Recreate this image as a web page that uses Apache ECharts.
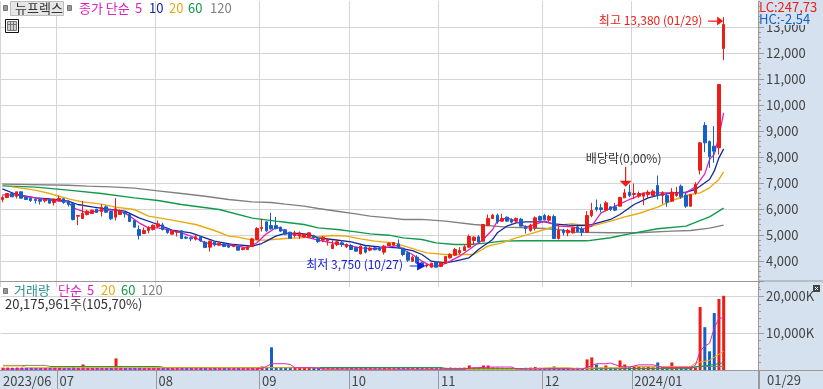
<!DOCTYPE html>
<html><head><meta charset="utf-8">
<style>html,body{margin:0;padding:0;background:#fff}#c{width:823px;height:389px}</style>
<script src="https://cdn.jsdelivr.net/npm/echarts@6/dist/echarts.min.js"></script>
</head><body><div id="c"></div>
<script>
// [open, close, low, high]
const candles = [
[6365,6440,6260,6520],[6440,6596,6416,6620],[6596,6468,6460,6610],[6493,6660,6404,6673],[6660,6416,6410,6670],
[6455,6365,6360,6470],[6404,6327,6275,6410],[6365,6327,6211,6391],[6365,6301,6173,6365],[6314,6365,6250,6416],
[6365,6224,6211,6391],[6250,6378,6134,6404],[6327,6404,6301,6519],[6391,6250,6198,6416],[6301,6173,6096,6327],
[6211,5596,5558,6237],[5724,5750,5378,5750],[5634,5827,5622,6314],[5788,5917,5750,5968],[5827,5955,5814,5968],
[5993,5865,5852,6006],[5904,6058,5711,6186],[6083,5878,5852,6134],[5904,5622,5570,5929],[5686,6006,5558,6416],
[5788,5929,5788,5981],[5878,5814,5673,5904],[5788,5519,5506,5800],[5558,5301,5290,5570],[5211,4981,4827,5365],
[5058,5173,5058,5288],[5173,5288,5058,5340],[5211,5378,5173,5404],[5327,5429,5275,5558],[5391,5211,5173,5468],
[5250,5096,5045,5275],[5032,5147,5020,5160],[5109,5134,4942,5134],[5160,4865,4840,5186],[4917,4878,4840,4955],
[4891,4852,4763,4917],[4840,4930,4788,5019],[4917,4775,4737,4955],[4724,4519,4493,4775],[4532,4763,4365,4788],
[4724,4622,4557,4750],[4609,4686,4600,4700],[4660,4557,4532,4686],[4622,4532,4519,4647],[4557,4596,4532,4622],
[4545,4417,4404,4557],[4442,4493,4404,4519],[4442,4545,4442,4570],[4557,4852,4545,4891],[4827,5250,4801,5301],
[5250,5288,5134,5622],[5506,5160,5122,5519],[5365,5237,5211,5852],[5366,5250,5212,5699],[5302,5148,5130,5320],
[5199,5032,5006,5237],[5109,4878,4870,5120],[4981,5083,4904,5160],[4955,5083,4853,5135],[4930,5020,4904,5045],
[4930,5083,4904,5109],[4981,4904,4853,5006],[4853,4750,4699,4904],[4802,4904,4725,4955],[4776,4827,4596,4878],
[4481,4635,4481,4802],[4635,4737,4571,4840],[4699,4635,4545,4802],[4545,4635,4494,4673],[4596,4443,4417,4648],
[4520,4378,4365,4533],[4276,4571,4250,4596],[4532,4340,4290,4596],[4417,4494,4378,4545],[4506,4430,4415,4530],
[4506,4417,4378,4530],[4340,4571,4250,4622],[4596,4686,4596,4712],[4609,4712,4596,4730],[4660,4506,4490,4827],
[4494,4250,4186,4510],[4314,4032,3968,4378],[3994,4147,3968,4212],[4147,3930,3891,4224],[3930,3800,3780,3960],
[3810,3850,3750,3890],[3763,3917,3750,3940],[3968,3763,3750,3990],[3790,3930,3780,3950],[3904,4173,3890,4185],
[4122,4250,4096,4301],[4224,4442,4186,4506],[4314,4404,4250,4532],[4404,4545,4404,4609],[4532,4942,4506,5019],
[4788,4917,4609,4955],[4930,4724,4686,4994],[4763,5404,4750,5404],[5378,5635,5340,5788],[5635,5763,5635,5814],
[5763,5506,5430,5827],[5532,5635,5506,5814],[5686,5532,5520,5712],[5596,5494,5442,5647],[5558,5635,5442,5673],
[5609,5340,5330,5660],[5340,5250,5058,5360],[5173,5378,5122,5430],[5276,5660,5173,5712],[5711,5570,5560,5750],
[5750,5583,5570,5814],[5570,5711,5506,5775],[5711,4865,4855,5788],[4865,5173,4827,5404],[5186,5083,4980,5237],
[5083,5173,4955,5237],[5083,5275,5058,5290],[5314,5122,5110,5340],[5237,5109,4955,5314],[5109,5750,5083,5916],
[5750,5942,5686,6237],[6058,5981,5904,6365],[6045,5981,5878,6198],[5955,6237,5929,6301],[6083,5981,5929,6100],
[6083,5955,5916,6237],[6109,6442,6096,6468],[6429,6622,6429,6775],[6647,6519,6455,6942],[6557,6596,6391,6980],
[6493,6596,6429,6673],[6493,6596,6147,6622],[6557,6647,6429,6724],[6519,6686,6468,6750],[6903,6519,6365,7288],
[6519,6622,6198,6686],[6519,6263,6083,6622],[6301,6647,6275,6801],[6519,6622,6468,6852],[6878,6468,6391,6942],
[6532,6109,6045,6622],[6109,6558,6084,6570],[6622,6943,6558,7032],[7494,8545,7327,8571],[9212,8545,8186,9340],
[8596,8007,7584,8635],[8417,8225,7776,9186],[8353,10789,8096,10789],[12173,13096,11723,13380]
];
const volumes = [
650,650,600,650,650,600,600,600,550,600,580,650,650,600,600,800,650,1500,650,650,
600,650,600,650,3150,700,600,650,600,650,600,600,650,650,600,600,650,600,650,600,
580,600,580,600,650,600,600,580,550,580,550,580,600,700,800,960,650,6160,700,650,
650,650,600,600,580,600,550,580,550,580,550,580,550,580,550,550,650,550,550,520,
520,600,550,520,550,600,580,550,550,520,550,580,520,520,600,650,600,600,650,1230,
650,600,1230,1230,700,650,600,550,600,550,550,600,650,800,600,580,600,960,550,580,
600,550,580,550,2880,3420,1500,650,1230,650,600,2600,1500,700,1000,800,700,800,700,2050,
750,650,2050,700,650,650,960,700,17120,11640,5070,15480,19300,20176
];
const monthLabels = {0:'2023/06',12:'07',33:'08',55:'09',74:'10',93:'11',115:'12',134:'2024/01'};
const categories = Array.from({length:161},(_,i)=>monthLabels[i]||'');
const priceTicks = {min:3000,max:14000,interval:1000};

const ma5 = [[0,6545],[3,6532],[7,6429],[10,6340],[14,6263],[15,6045],[18,5852],[21,5955],[24,5955],[26,5852],[29,5468],[31,5275],[33,5275],[35,5211],[38,5083],[41,4891],[43,4699],[46,4635],[49,4596],[52,4506],[54,4700],[56,5045],[58,5276],[59,5276],[60,5084],[62,5020],[65,4891],[68,4763],[70,4699],[73,4610],[76,4507],[79,4468],[81,4507],[83,4571],[84,4596],[85,4443],[87,4250],[89,3994],[91,3801],[93,3827],[95,3994],[97,4186],[100,4570],[102,4827],[104,5211],[105,5532],[107,5660],[109,5532],[111,5301],[113,5404],[115,5532],[118,5340],[121,5314],[123,5212],[125,5340],[127,5853],[130,6109],[133,6366],[134,6430],[136,6622],[141,6622],[145,6622],[147,6853],[149,7350],[150,7900],[151,8100],[152,8800],[153,9699]];
const ma10 = [[0,6775],[3,6558],[7,6429],[10,6391],[14,6301],[16,6173],[19,6083],[22,6006],[26,5916],[29,5660],[33,5404],[36,5186],[40,5083],[45,4763],[49,4634],[53,4570],[55,4673],[56,4763],[58,4955],[60,5058],[63,5058],[65,5020],[67,4891],[70,4827],[74,4737],[77,4596],[80,4545],[84,4507],[87,4400],[89,4250],[91,3994],[94,3930],[96,3994],[99,4122],[101,4442],[104,4827],[105,5083],[107,5340],[109,5468],[111,5506],[115,5506],[117,5430],[120,5379],[123,5366],[125,5400],[129,5597],[131,5789],[134,6173],[137,6430],[139,6520],[142,6622],[145,6648],[147,6750],[150,7135],[151,7455],[152,7968],[153,8314]];
const ma20 = [[2,6852],[7,6724],[10,6596],[14,6391],[17,6275],[21,6186],[24,6070],[28,5981],[31,5724],[36,5570],[41,5404],[45,5173],[48,4955],[50,4917],[53,4801],[56,4802],[60,4866],[63,4891],[67,4930],[70,4981],[73,4955],[76,4853],[79,4763],[83,4699],[86,4532],[90,4314],[94,4250],[100,4250],[103,4570],[106,4699],[109,4891],[112,5045],[115,5211],[118,5378],[121,5430],[125,5340],[129,5532],[132,5699],[135,5827],[139,6071],[142,6327],[146,6558],[148,6622],[150,6815],[152,7135],[153,7430]];
const ma60 = [[0,6891],[7,6840],[14,6724],[21,6596],[28,6429],[33,6327],[38,6173],[46,5981],[53,5647],[58,5532],[60,5493],[64,5404],[67,5275],[71,5211],[75,5122],[78,5045],[82,4993],[85,4891],[89,4827],[92,4698],[96,4634],[99,4635],[103,4699],[106,4763],[110,4780],[115,4785],[124,4776],[129,4892],[133,5045],[139,5238],[145,5340],[150,5699],[153,6033]];
const ma120 = [[0,6955],[14,6916],[18,6878],[23,6852],[28,6801],[33,6698],[38,6596],[43,6493],[48,6365],[53,6275],[57,6250],[60,6186],[64,6109],[67,6019],[71,5916],[75,5814],[78,5724],[82,5660],[85,5596],[89,5600],[94,5532],[100,5404],[107,5301],[115,5250],[118,5211],[121,5109],[129,5084],[135,5084],[142,5148],[146,5174],[150,5263],[153,5379]];

const volMa5 = [[0,270],[54,270],[55,500],[56,1000],[57,1700],[60,1700],[61,1500],[62,620],[66,620],[68,270],[98,190],[99,550],[102,700],[104,800],[108,800],[109,270],[123,270],[124,700],[126,1700],[128,1700],[129,1900],[131,960],[133,800],[135,1400],[138,1400],[140,700],[146,700],[147,1300],[148,5150],[149,6500],[150,7260],[151,11370],[152,14100],[153,14100]];
const volMa20 = [[0,1100],[4,1100],[5,625],[67,625],[68,190],[98,190],[110,190],[116,600],[120,600],[122,350],[126,600],[131,600],[133,960],[146,960],[147,1900],[150,2600],[152,4300],[153,5100]];
const volMa60 = [[10,900],[33,900],[34,700],[93,625],[94,350],[146,500],[147,800],[150,1300],[152,1700],[153,2000]];
const volMa120 = [[0,1250],[9,1250],[10,950],[33,950],[34,680],[93,680],[94,350],[146,350],[147,960],[153,960]];

const RED='#ED1C14', BLUE='#1560C8', DEEPBLUE='#1420E0', MAGENTA='#DD22BB', NAVY='#14289C', ORANGE='#EBAA0E', GREEN='#109A4A', GRAY='#808080';
const STRIP='#D5E1EF', GRID='#D4D4D4', AXIS='#9A9A9A', INK='#444444';
const NUM='"Liberation Sans Narrow","Noto Sans CJK KR",sans-serif';
const KR='"Liberation Sans Narrow","Noto Sans CJK KR",sans-serif';
const showMonth = i => !!monthLabels[i];
const line = (name,data,color,xi,yi,w) => ({type:'line',name,data,xAxisIndex:xi,yAxisIndex:yi,symbol:'none',silent:true,
  lineStyle:{color,width:w},z:4,clip:true});

const txt = (x,y,text,fill,extra) => ({type:'text',x,y,z:30,style:Object.assign({text,fill,font:'13px '+KR,textVerticalAlign:'middle'},extra||{})});
const rect = (x,y,w,h,fill,z,stroke) => ({type:'rect',x,y,shape:{x:0,y:0,width:w,height:h},z,style:{fill,stroke:stroke||null,lineWidth:stroke?1:0}});
const ln = (x1,y1,x2,y2,stroke,z) => ({type:'line',z,shape:{x1,y1,x2,y2},style:{stroke,lineWidth:1}});

const graphics = [
  rect(759,0,64,389,STRIP,-1), rect(0,370.5,823,19,STRIP,-1),
  rect(760,0,63,25,STRIP,12), rect(760,282,63,12,STRIP,2),
  ln(0,281.5,758,281.5,AXIS,8), ln(0,370.5,823,370.5,AXIS,8), ln(758.5,281,823,281,AXIS,8),
  ln(758.5,370,758.5,389,AXIS,8),
  txt(759,7,'LC:247,73',RED), txt(759,19,'HC:-2,54',BLUE),
  rect(3.5,5.5,4,5,'#999999',20,'#777777'),
  rect(10.5,1.5,53,14,'#E6E6E6',20,'#BDBDBD'),
  txt(15,8.5,'뉴프렉스','#333333'),
  rect(67.5,5.5,4,5,'#999999',20,'#777777'),
  txt(79,8,'종가 단순',MAGENTA), txt(135,8,'5',MAGENTA), txt(149,8,'10',NAVY), txt(169,8,'20',ORANGE), txt(188,8,'60',GREEN), txt(210,8,'120',GRAY),
  rect(5.5,19.5,13,13,'#FFFFFF',20,'#111111'),
  rect(7.5,21.5,9,9,'#D0D0D0',21,'#777777'),
  ln(10.5,21.5,10.5,30.5,'#777777',22), ln(13.5,21.5,13.5,30.5,'#777777',22), ln(7.5,24.5,16.5,24.5,'#777777',22),
  rect(3.5,288.5,4,5,'#999999',20,'#777777'),
  txt(14,290,'거래량','#2E8F8F'), txt(58,290,'단순',MAGENTA), txt(87,290,'5',MAGENTA), txt(101,290,'20',ORANGE), txt(121,290,'60',GREEN), txt(141,290,'120',GRAY),
  txt(5,304,'20,175,961주(105,70%)','#333333'),
  txt(767,380,'01/29',INK),
  rect(813,285,7,7,'#444444',20),
  ln(815,287,818,290,'#FFFFFF',21), ln(818,287,815,290,'#FFFFFF',21)
];

const note = (coord,text,color,off) => ({coord,symbol:'circle',symbolSize:1,itemStyle:{color:'rgba(0,0,0,0)'},
  label:{show:true,position:'inside',formatter:text,color,font:'13px '+KR,offset:off}});
const arrow = (coord,path,size,off,color) => ({coord,symbol:path,symbolSize:size,symbolKeepAspect:false,symbolOffset:off,
  itemStyle:{color},label:{show:false}});

const option = {
  animation:false, backgroundColor:'#fff', textStyle:{fontFamily:NUM},
  graphic:{elements:graphics},
  grid:[
    {left:0,top:1,width:759,height:286,show:false},
    {left:0,top:281.7,width:759,height:88.3,show:false}
  ],
  xAxis:[
    {type:'category',gridIndex:0,data:categories,boundaryGap:true,axisLine:{show:false},axisTick:{show:false},axisLabel:{show:false},
     splitLine:{show:true,interval:showMonth,lineStyle:{color:GRID,width:1}}},
    {type:'category',gridIndex:1,data:categories,boundaryGap:true,axisLine:{show:false},
     axisTick:{show:true,interval:i=>showMonth(i)&&i>0,length:19,lineStyle:{color:AXIS}},
     axisLabel:{show:true,interval:showMonth,align:'left',margin:5,color:INK,fontSize:13,fontFamily:NUM,hideOverlap:false},
     splitLine:{show:false}}
  ],
  yAxis:[
    {type:'value',gridIndex:0,position:'right',offset:-1,z:1,min:priceTicks.min,max:priceTicks.max,interval:priceTicks.interval,
     axisLine:{show:true,lineStyle:{color:AXIS,width:1}},
     axisTick:{show:true,length:6,lineStyle:{color:AXIS}},
     minorTick:{show:true,splitNumber:5,length:3,lineStyle:{color:AXIS}},
     axisLabel:{margin:8,color:INK,fontSize:13,fontFamily:NUM,showMinLabel:false,showMaxLabel:false,padding:[0,0,2,0],
       formatter:v=>(v<=3000||v>=14000)?'':v.toLocaleString('en-US')},
     splitLine:{show:true,showMinLine:false,showMaxLine:false,lineStyle:{color:GRID,width:1}}},
    {type:'value',gridIndex:1,position:'right',offset:-1,z:3,min:0,max:24000,interval:10000,
     axisLine:{show:true,lineStyle:{color:AXIS,width:1}},
     axisTick:{show:true,length:6,lineStyle:{color:AXIS}},
     minorTick:{show:true,splitNumber:5,length:3,lineStyle:{color:AXIS}},
     axisLabel:{margin:8,color:INK,fontSize:13,fontFamily:NUM,
       formatter:v=>(v===10000||v===20000)?v.toLocaleString('en-US')+'K':''},
     splitLine:{show:true,showMinLine:false,showMaxLine:false,lineStyle:{color:GRID,width:1}}}
  ],
  series:[
    line('MA120',ma120,GRAY,0,0,1.4), line('MA60',ma60,GREEN,0,0,1.4), line('MA20',ma20,ORANGE,0,0,1.4),
    {type:'candlestick',name:'price',data:candles,xAxisIndex:0,yAxisIndex:0,barWidth:3,z:5,silent:true,
     itemStyle:{color:RED,color0:BLUE,borderColor:RED,borderColor0:BLUE,borderWidth:1},
     markPoint:{silent:true,animation:false,z:9,data:[
       arrow([153,13380],'path://M0,3.4 H9 V0 L15,4 L9,8 V4.6 H0 Z',[15,9],[-8,4],RED),
       note([153,13380],'최고 13,380 (01/29)',RED,[-73,3]),
       arrow([90,3750],'path://M0,4 H7 V0 L15,4.5 L7,9 V5 H0 Z',[16,9],[-9,-1.5],DEEPBLUE),
       note([90,3750],'최저 3,750 (10/27)',DEEPBLUE,[-72,-3]),
       arrow([132,6775],'path://M5.4,0 H6.6 V14 H12 L6,20 L0,14 H5.4 Z',[12,20],[1,-12],RED),
       note([132,6775],'배당락(0,00%)','#333333',[-1,-30])
     ]}},
    line('MA10',ma10,NAVY,0,0,1.3), line('MA5',ma5,MAGENTA,0,0,1.3),
    {type:'bar',name:'volume',xAxisIndex:1,yAxisIndex:1,barWidth:3,z:3,silent:true,
     data:volumes.map((v,i)=>({value:v,itemStyle:{color:candles[i][1]>=candles[i][0]?RED:BLUE}}))},
    line('V120',volMa120,GRAY,1,1,1), line('V60',volMa60,GREEN,1,1,1), line('V20',volMa20,ORANGE,1,1,1), line('V5',volMa5,MAGENTA,1,1,1)
  ]
};
echarts.init(document.getElementById('c'),null,{renderer:'canvas'}).setOption(option);
</script></body></html>
